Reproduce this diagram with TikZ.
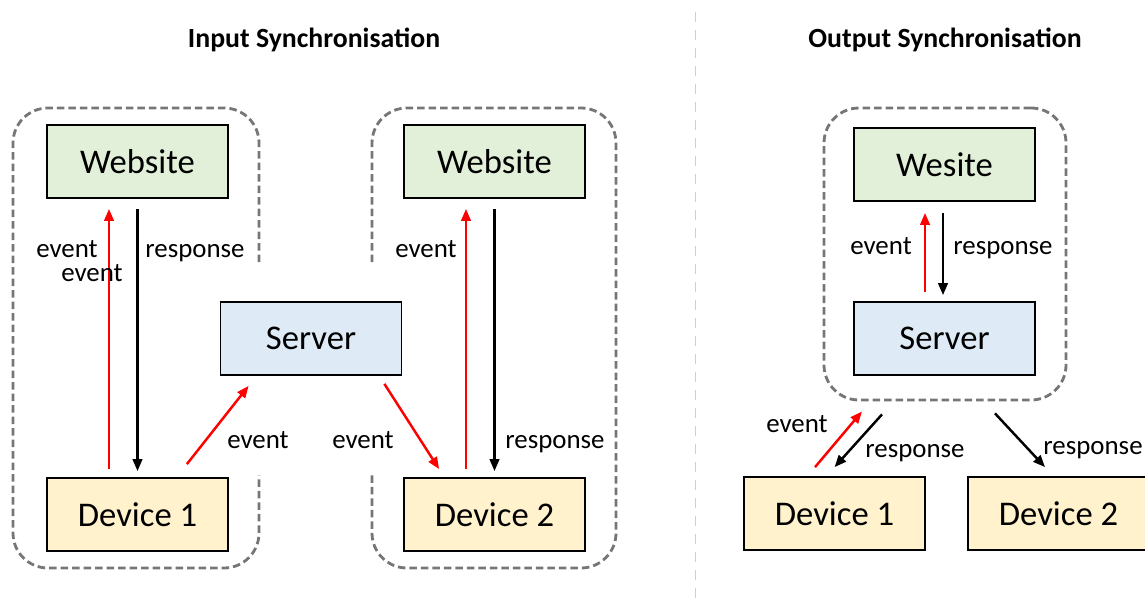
\documentclass[tikz,border=0pt]{standalone}
\usepackage{fontspec}
\setmainfont{Carlito}
\usetikzlibrary{arrows.meta}

\definecolor{webgreen}{HTML}{E2F0D9}
\definecolor{srvblue}{HTML}{DEEBF7}
\definecolor{devyellow}{HTML}{FFF2CC}
\definecolor{grpgray}{HTML}{767676}
\definecolor{divgray}{HTML}{CFCFCF}

\begin{document}
\begin{tikzpicture}[>={Triangle[length=0.24cm,width=0.19cm]},x=1.000cm,y=1.000cm,
 blk/.style={draw,line width=1pt,minimum width=3.62cm,minimum height=1.46cm,inner sep=0pt,font=\fontsize{19.7}{24}\selectfont},
 web/.style={blk,fill=webgreen},
 srv/.style={blk,fill=srvblue},
 dev/.style={blk,fill=devyellow},
 grp/.style={draw=grpgray,line width=1.6pt,dash pattern=on 0.15cm off 0.08cm,rounded corners=0.7cm},
 evt/.style={->,draw=red,line width=1.4pt},
 rsp/.style={->,draw=black,line width=1.4pt},
 lab/.style={font=\fontsize{15.3}{18}\selectfont,inner sep=1pt},
 ttl/.style={font=\fontsize{15.8}{19}\selectfont\bfseries,inner sep=1pt}]
\useasboundingbox (0,0) rectangle (22.90,-12.12);
% titles and divider
\node[ttl] (tin) at (6.28,-0.80) {Input Synchronisation};
\node[ttl] (tout) at (18.90,-0.80) {Output Synchronisation};
\coordinate (divtop) at (13.91,-0.24);
\coordinate (divbot) at (13.91,-12.12);
\draw[divgray,line width=1.1pt,dash pattern=on 0.2cm off 0.16cm] (divtop) -- (divbot);
% input side: two open groups round the server
\draw[grp] (5.18,-5.24) -- (5.18,-2.16) -- (0.26,-2.16) -- (0.26,-11.36) -- (5.18,-11.36) -- (5.18,-9.50);
\draw[grp] (7.44,-5.24) -- (7.44,-2.16) -- (12.32,-2.16) -- (12.32,-11.36) -- (7.44,-11.36) -- (7.44,-9.50);
\node[web] (web1) at (2.75,-3.23) {Website};
\node[dev] (dev1) at (2.75,-10.29) {Device 1};
\node[srv] (srv1) at (6.22,-6.77) {Server};
\node[web] (web2) at (9.89,-3.23) {Website};
\node[dev] (dev2) at (9.89,-10.29) {Device 2};
\draw[evt] ([xshift=-0.57cm,yshift=0.16cm]dev1.north) -- ([xshift=-0.57cm,yshift=-0.20cm]web1.south);
\draw[rsp] ([yshift=-0.20cm]web1.south) -- ([yshift=0.12cm]dev1.north);
\draw[evt] ([xshift=-0.84cm,yshift=0.26cm]dev1.north east) -- ([xshift=0.58cm,yshift=-0.20cm]srv1.south west);
\draw[evt] ([xshift=-0.36cm,yshift=-0.16cm]srv1.south east) -- ([xshift=0.72cm,yshift=0.16cm]dev2.north west);
\draw[evt] ([xshift=-0.57cm,yshift=0.16cm]dev2.north) -- ([xshift=-0.57cm,yshift=-0.20cm]web2.south);
\draw[rsp] ([yshift=-0.20cm]web2.south) -- ([yshift=0.12cm]dev2.north);
\node[lab] (ev1a) at (1.34,-4.98) {event};
\node[lab] (ev1b) at (1.84,-5.46) {event};
\node[lab] (re1) at (3.90,-5.06) {response};
\node[lab] (ev2) at (5.16,-8.80) {event};
\node[lab] (ev3) at (7.26,-8.80) {event};
\node[lab] (ev4) at (8.52,-4.98) {event};
\node[lab] (re2) at (11.10,-8.88) {response};
% output side
\node[grp,minimum width=4.84cm,minimum height=5.84cm] (ogrp) at (18.90,-5.08) {};
\node[web] (oweb) at (18.89,-3.29) {Wesite};
\node[srv] (osrv) at (18.89,-6.77) {Server};
\node[dev] (odev1) at (16.69,-10.27) {Device 1};
\node[dev] (odev2) at (21.17,-10.27) {Device 2};
\draw[evt] ([xshift=-0.39cm,yshift=0.18cm]osrv.north) -- ([xshift=-0.39cm,yshift=-0.22cm]oweb.south);
\draw[rsp] ([xshift=-0.03cm,yshift=-0.22cm]oweb.south) -- ([xshift=-0.03cm,yshift=0.12cm]osrv.north);
\draw[evt] ([xshift=-0.39cm,yshift=0.18cm]odev1.north) -- ([xshift=-1.66cm,yshift=-0.20cm]ogrp.south);
\draw[rsp] ([xshift=-1.26cm,yshift=-0.26cm]ogrp.south) -- ([yshift=0.18cm]odev1.north);
\draw[rsp] ([xshift=1.00cm,yshift=-0.24cm]ogrp.south) -- ([xshift=-0.27cm,yshift=0.18cm]odev2.north);
\node[lab] (ev5) at (17.62,-4.92) {event};
\node[lab] (re3) at (20.06,-5.00) {response};
\node[lab] (ev6) at (15.94,-8.48) {event};
\node[lab] (re4) at (18.30,-9.06) {response};
\node[lab] (re5) at (21.86,-9.00) {response};
\end{tikzpicture}
\end{document}
